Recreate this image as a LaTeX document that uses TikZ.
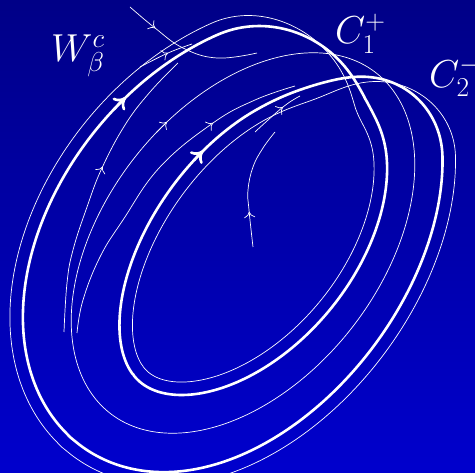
\RequirePackage{fix-cm}
\documentclass[tikz,border=0pt]{standalone}
\usepackage{amsmath}
\usepackage{tikz}
\usetikzlibrary{arrows.meta, decorations.markings}
\definecolor{bgtop}{RGB}{0,0,135}
\definecolor{bgbottom}{RGB}{0,0,205}

% centre ellipse of the band and its outward normal (y up)
\pgfmathdeclarefunction{midx}{1}{\pgfmathparse{243+216*cos(#1)*cos(52)-138*sin(#1)*sin(52)}}
\pgfmathdeclarefunction{midy}{1}{\pgfmathparse{216*cos(#1)*sin(52)+138*sin(#1)*cos(52)}}
\pgfmathdeclarefunction{nrmx}{1}{\pgfmathparse{(-216*sin(#1)*sin(52)+138*cos(#1)*cos(52))/veclen(-216*sin(#1)*sin(52)+138*cos(#1)*cos(52),216*sin(#1)*cos(52)+138*cos(#1)*sin(52))}}
\pgfmathdeclarefunction{nrmy}{1}{\pgfmathparse{(216*sin(#1)*cos(52)+138*cos(#1)*sin(52))/veclen(-216*sin(#1)*sin(52)+138*cos(#1)*cos(52),216*sin(#1)*cos(52)+138*cos(#1)*sin(52))}}
% twist of the band: the strand swaps sides near the top right
\pgfmathdeclarefunction{twist}{1}{\pgfmathparse{sin(2*max(-45,min(45,2*asin(sin((#1-8)/2)))))}}
% offset from the centre ellipse: #2 = extra width, #3 = inward dip at the crossing
\pgfmathdeclarefunction{ofs}{3}{\pgfmathparse{(38+11*cos(#1-120)+#2)*twist(#1)-#3*(1-twist(#1)^2)}}

\begin{document}
\begin{tikzpicture}[
    x=1pt, y=-1pt,
    cycleline/.style={white, line width=2.6pt, line join=round},
    flowline/.style={white, line width=0.7pt, line join=round},
    bigtip/.style={-{To[length=11pt, width=17pt]}},
    smalltip/.style={postaction={decorate, decoration={markings, mark=at position #1 with {\arrow{To[length=6pt, width=11pt]}}}}},
    labelstyle/.style={white, inner sep=0pt, font=\fontsize{39}{43}\selectfont}
]

% === Background ===
\shade[top color=bgtop, bottom color=bgbottom] (0,0) rectangle (475,473);
\useasboundingbox (0,0) rectangle (475,473);

% === Thick periodic orbit (winds twice round the band) ===
\draw[cycleline] plot[domain=0:720, samples=481, smooth, variable=\t]
    ({midx(\t)+ofs(\t,0,16)*nrmx(\t)}, {243-midy(\t)-ofs(\t,0,16)*nrmy(\t)}) -- cycle;
\draw[cycleline, bigtip] plot[domain=84:80, samples=3, variable=\t]
    ({midx(\t)+ofs(\t,0,16)*nrmx(\t)}, {243-midy(\t)-ofs(\t,0,16)*nrmy(\t)});
\draw[cycleline, bigtip] plot[domain=439:435, samples=3, variable=\t]
    ({midx(\t)+ofs(\t,0,16)*nrmx(\t)}, {243-midy(\t)-ofs(\t,0,16)*nrmy(\t)});

% === Thin orbit hugging it ===
\draw[flowline] plot[domain=0:720, samples=481, smooth, variable=\t]
    ({midx(\t)+ofs(\t,13,26)*nrmx(\t)}, {243-midy(\t)-ofs(\t,13,26)*nrmy(\t)}) -- cycle;

% === Middle orbit ===
\draw[flowline] plot[domain=0:360, samples=181, smooth, variable=\t]
    ({midx(\t)}, {243-midy(\t)}) -- cycle;
\draw[flowline, -{To[length=6pt, width=11pt]}] plot[domain=81:77, samples=3, variable=\t]
    ({midx(\t)}, {243-midy(\t)});

% === Short trajectories ===
\draw[flowline, smalltip=0.57] plot[smooth, tension=0.7] coordinates {
    (64,332) (67,283) (73,250) (87,207) (102,168) (125,125) (150,92) (178,63)};
\draw[flowline, smalltip=0.74] plot[smooth, tension=0.7] coordinates {
    (77,333) (83,300) (100,257) (123,220) (160,167) (213,123) (255,100) (295,86)};
\draw[flowline, smalltip=0.65] plot[smooth, tension=0.7] coordinates {
    (255,132) (283,107) (300,96)};
\draw[flowline, smalltip=0.55] plot[smooth, tension=0.7] coordinates {
    (140,67) (168,53) (192,44)};
\draw[flowline, smalltip=0.29] plot[smooth, tension=0.7] coordinates {
    (253,247) (249,210) (248,190) (253,167) (263,148) (275,132)};
\draw[flowline, smalltip=0.23] plot[smooth, tension=0.7] coordinates {
    (130,7) (155,28) (183,48) (217,58) (257,53)};

% === Labels ===
\node[labelstyle, anchor=base west] (wlabel) at (51,62) {$W^c_\beta$};
\node[labelstyle, anchor=base west] (cplus) at (335,44) {$C_1^+$};
\node[labelstyle, anchor=base west] (cminus) at (429,88) {$C_2^-$};

\end{tikzpicture}
\end{document}
